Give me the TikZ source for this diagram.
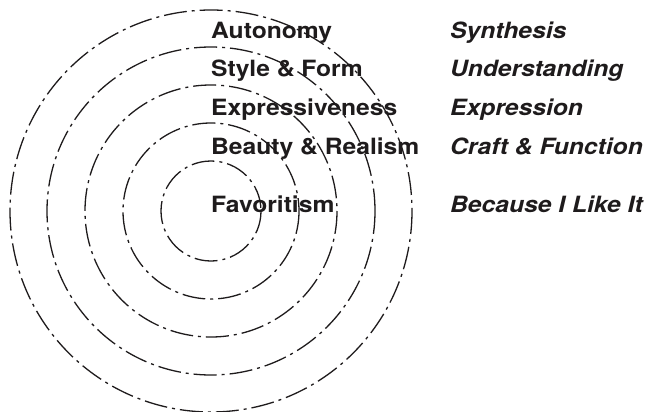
\documentclass[tikz,border=0pt]{standalone}
\usepackage{fontspec}
\setmainfont{TeX Gyre Heros}[FakeStretch=1.1]
\usepackage{tikz}
\usetikzlibrary{positioning}
\definecolor{rink}{RGB}{30,27,28}

\begin{document}
\begin{tikzpicture}[x=1pt,y=-1pt,
  ring/.style={draw=rink,line width=1.3pt,dash pattern=on 23pt off 5pt on 3pt off 5pt},
  levelname/.style={anchor=base west,inner sep=0pt,text=rink,font=\fontsize{22.4}{26}\selectfont\bfseries},
  levelgoal/.style={anchor=base west,inner sep=0pt,text=rink,font=\fontsize{22.4}{26}\selectfont\bfseries\itshape}]
\useasboundingbox (0,0) rectangle (648,412);
% rings round the centre
\foreach \r in {50,88,126,164,201}
  \draw[ring] (211,211) circle (\r);
% names and goals of the levels
\foreach \lab/\goal/\y [count=\i] in {%
  Autonomy/Synthesis/38.5,
  Style \& Form/Understanding/77,
  Expressiveness/Expression/115.5,
  Beauty \& Realism/Craft \& Function/154,
  Favoritism/Because I Like It/212}{%
  \node[levelname] (name\i) at (211,\y) {\lab};
  \node[levelgoal] (goal\i) at (450,\y) {\goal};
}
\end{tikzpicture}
\end{document}
